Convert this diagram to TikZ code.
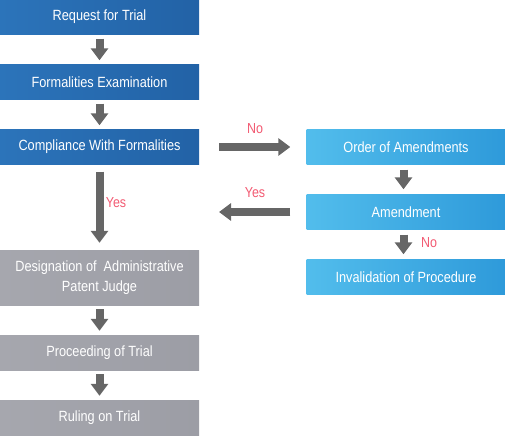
\documentclass[tikz,border=0pt]{standalone}
\usepackage{fontspec}
\newfontfamily\cfont[FakeStretch=0.86]{Liberation Sans}
\usetikzlibrary{arrows.meta}
\definecolor{bL}{HTML}{2C74BA}
\definecolor{bM}{HTML}{3A8ACC}
\definecolor{bR}{HTML}{2262A6}
\definecolor{lL}{HTML}{52BDEC}
\definecolor{lM}{HTML}{46B2E8}
\definecolor{lR}{HTML}{2E9ADA}
\definecolor{gL}{HTML}{A6A7AE}
\definecolor{gM}{HTML}{B6B7BD}
\definecolor{gR}{HTML}{9C9DA5}
\definecolor{arr}{HTML}{666666}
\definecolor{lab}{HTML}{F25A72}
\tikzset{
  box/.style={minimum width=199pt, minimum height=35pt, inner sep=0pt, text=white,
    font=\cfont\fontsize{14.8}{20}\selectfont, align=center},
  darkbox/.style={box, left color=bL, middle color=bM, right color=bR},
  lightbox/.style={box, left color=lL, middle color=lM, right color=lR},
  graybox/.style={box, left color=gL, middle color=gM, right color=gR},
  flow/.style={draw=arr, line width=8pt, -{Triangle[width=17pt,length=12pt]}},
  lbl/.style={text=lab, font=\cfont\fontsize{14.5}{16}\selectfont, inner sep=0pt}
}
\begin{document}
\begin{tikzpicture}[x=1pt,y=-1pt]
\useasboundingbox (0,0) rectangle (505,442);
\node[darkbox] (req) at (99.5,17) {Request for Trial};
\node[darkbox] (form) at (99.5,82) {Formalities Examination};
\node[darkbox] (comp) at (99.5,147) {Compliance With Formalities};
\node[graybox, minimum height=55pt] (desig) at (99.5,277.5) {Designation of \ Administrative\\Patent Judge};
\node[graybox] (proc) at (99.5,352.5) {Proceeding of Trial};
\node[graybox] (rul) at (99.5,417.5) {Ruling on Trial};
\node[lightbox] (order) at (406,147) {Order of Amendments};
\node[lightbox] (amend) at (406,212) {Amendment};
\node[lightbox] (inval) at (406,277) {Invalidation of Procedure};
\coordinate (yesend) at (219,212);
\draw[flow, shorten <=4pt, shorten >=4pt] (req.south) -- (form.north);
\draw[flow, shorten <=4pt, shorten >=4pt] (form.south) -- (comp.north);
\draw[flow, shorten <=7pt, shorten >=7pt] (comp.south) -- (desig.north);
\draw[flow, shorten <=4pt, shorten >=4pt] (desig.south) -- (proc.north);
\draw[flow, shorten <=4pt, shorten >=4pt] (proc.south) -- (rul.north);
\draw[flow, shorten <=20pt, shorten >=16pt] (comp.east) -- (order.west);
\draw[flow, shorten <=5pt, shorten >=5pt] (order.south -| 403.5,0) -- (amend.north -| 403.5,0);
\draw[flow, shorten <=5pt, shorten >=5pt] (amend.south -| 403.5,0) -- (inval.north -| 403.5,0);
\draw[flow, shorten <=16pt] (amend.west) -- (yesend);
\node[lbl] (no1) at (255,129) {No};
\node[lbl] (yes1) at (255,193) {Yes};
\node[lbl] (yes2) at (116,203) {Yes};
\node[lbl] (no2) at (429,243) {No};
\end{tikzpicture}
\end{document}
